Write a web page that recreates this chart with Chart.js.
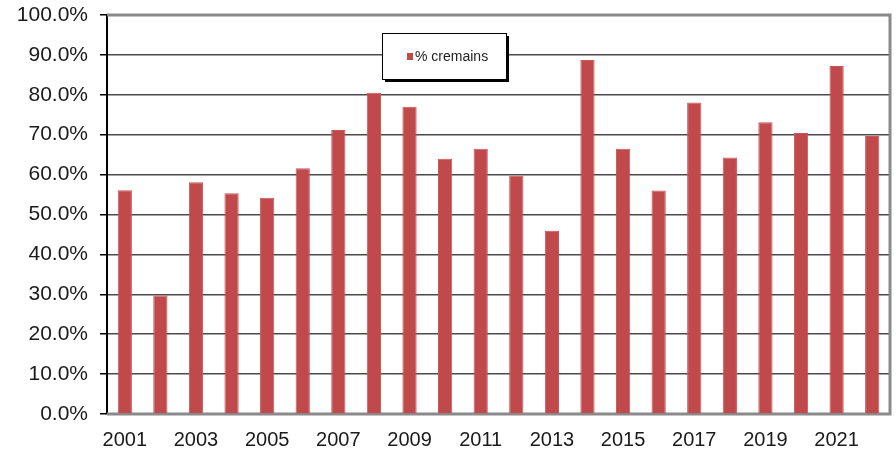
<!DOCTYPE html>
<html>
<head>
<meta charset="utf-8">
<script src="https://cdn.jsdelivr.net/npm/chart.js@4"></script>
<style>
  html, body { margin: 0; padding: 0; background: #fff; overflow: hidden; }
  #wrap { width: 896px; height: 451px; position: relative; }
</style>
</head>
<body>
<div id="wrap"><canvas id="cremChart"></canvas></div>
<script>
// Data
const years = ['2001','2002','2003','2004','2005','2006','2007','2008','2009','2010','2011',
               '2012','2013','2014','2015','2016','2017','2018','2019','2020','2021','2022'];
const pctCremains = [56.1, 29.7, 58.1, 55.3, 54.2, 61.6, 71.2, 80.5, 77.0, 64.0, 66.5,
                     59.7, 45.9, 88.7, 66.5, 56.0, 78.1, 64.3, 73.1, 70.4, 87.2, 69.7];
const yTicks = [0, 10, 20, 30, 40, 50, 60, 70, 80, 90, 100];

const barRed = '#c0494b';

// Grey frame around the plot + legend box with drop shadow
const framePlugin = {
    id: 'frame',
    beforeDatasetsDraw(chart) {
        const { ctx, chartArea: a } = chart;
        ctx.save();
        ctx.strokeStyle = '#8a8a8a';
        ctx.lineWidth = 3;
        ctx.beginPath();
        ctx.moveTo(a.left, a.top);
        ctx.lineTo(a.right, a.top);
        ctx.lineTo(a.right, a.bottom);
        ctx.lineTo(a.left, a.bottom);
        ctx.stroke();
        ctx.restore();
    },
    afterDraw(chart) {
        const { ctx } = chart;
        const x = 382, y = 33, w = 124, h = 46;
        ctx.save();
        ctx.fillStyle = '#000';
        ctx.fillRect(x + 3, y + 3, w, h);
        ctx.fillStyle = '#fff';
        ctx.fillRect(x, y, w, h);
        ctx.strokeStyle = '#000';
        ctx.lineWidth = 1;
        ctx.strokeRect(x + 0.5, y + 0.5, w, h);
        ctx.fillStyle = barRed;
        ctx.fillRect(407, 53, 6, 7);
        ctx.fillStyle = '#222';
        ctx.font = '14px "Liberation Sans", Arial, sans-serif';
        ctx.textBaseline = 'middle';
        ctx.fillText(chart.data.datasets[0].label, 415, 57);
        ctx.restore();
    }
};

const ctx = document.getElementById('cremChart').getContext('2d');
new Chart(ctx, {
    type: 'bar',
    data: {
        labels: years,
        datasets: [{
            label: '% cremains',
            data: pctCremains,
            backgroundColor: barRed,
            borderColor: '#cc5555',
            borderWidth: 1,
            categoryPercentage: 1,
            barPercentage: 0.4
        }]
    },
    options: {
        responsive: true,
        maintainAspectRatio: false,
        animation: false,
        layout: {
            padding: { top: 15, right: 6, bottom: 0, left: 0 }
        },
        plugins: {
            legend: { display: false },
            tooltip: { enabled: false }
        },
        scales: {
            x: {
                grid: { display: false, drawTicks: false },
                border: { display: false },
                afterFit: (axis) => {
                    axis.height = 37;
                },
                ticks: {
                    autoSkip: false,
                    maxRotation: 0,
                    padding: 14,
                    color: '#1a1a1a',
                    font: { size: 20, family: '"Liberation Sans", Arial, sans-serif' },
                    callback: function(val, i) {
                        return i % 2 === 0 ? this.getLabelForValue(val) : '';
                    }
                }
            },
            y: {
                min: 0,
                max: 100,
                afterBuildTicks: (axis) => {
                    axis.ticks = yTicks.map(v => ({ value: v }));
                },
                afterFit: (axis) => {
                    axis.width = 107;
                    axis.paddingTop = 0;
                },
                grid: {
                    color: '#4a4a4a',
                    lineWidth: 1.5,
                    tickLength: 7,
                    tickColor: '#000'
                },
                border: { color: '#000', width: 2 },
                ticks: {
                    padding: 12,
                    color: '#1a1a1a',
                    font: { size: 21, family: '"Liberation Sans", Arial, sans-serif' },
                    callback: (v) => v.toFixed(1) + '%'
                }
            }
        }
    },
    plugins: [framePlugin]
});
</script>
</body>
</html>
